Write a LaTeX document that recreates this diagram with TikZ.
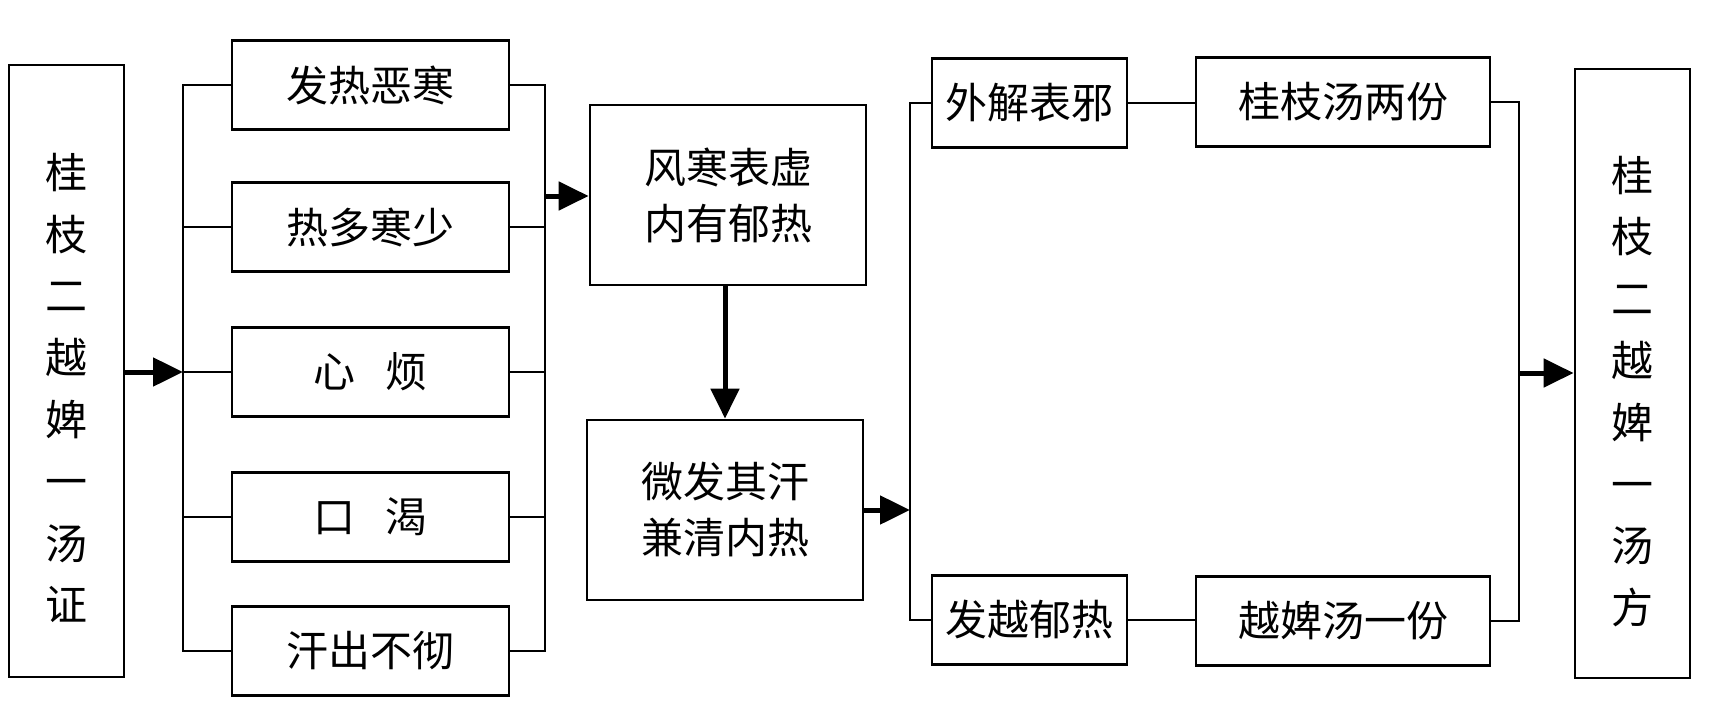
\documentclass[tikz,border=0pt]{standalone}
\usepackage{fontspec}
\newfontfamily\cjk{Noto Sans CJK SC}
\usetikzlibrary{arrows.meta}
\tikzset{
  box/.style={draw, line width=2.8pt, rectangle, inner sep=0pt, font=\cjk\fontsize{42}{56}\selectfont, align=center},
  vbox/.style={box, minimum width=115pt, minimum height=612pt},
  vtext/.style={inner sep=0pt, align=center, font=\cjk\fontsize{42}{61.8}\selectfont},
  sbox/.style={box, minimum width=277pt, minimum height=89pt},
  mbox/.style={box, minimum width=276pt, minimum height=180pt},
  tbox/.style={box, minimum width=195pt, minimum height=89pt},
  hbox/.style={box, minimum width=294pt, minimum height=89pt},
  conn/.style={line width=1.8pt},
  arr/.style={line width=5pt, -{Triangle[length=30pt,width=28pt]}}
}
\begin{document}
\begin{tikzpicture}[x=1pt,y=-1pt]
\useasboundingbox (0,0) rectangle (1736,720);
% left box
\node[vbox] (L) at (66.5,371) {};
\node[vtext] (Lt) at ([yshift=-17pt]L.center) {桂\\枝\\二\\越\\婢\\一\\汤\\证};
% symptoms
\node[sbox] (s1) at (370.5,85) {发热恶寒};
\node[sbox] (s2) at (370.5,227) {热多寒少};
\node[sbox] (s3) at (370.5,372) {心\hspace{0.7em}烦};
\node[sbox] (s4) at (370.5,517) {口\hspace{0.7em}渴};
\node[sbox] (s5) at (370.5,651) {汗出不彻};
\coordinate (lb) at (183,372);
\coordinate (rb) at (545,196);
% left bracket
\draw[conn] (s1.west) -- (s1.west -| lb) -- (s5.west -| lb) -- (s5.west);
\draw[conn] (s2.west) -- (s2.west -| lb);
\draw[conn] (s3.west) -- (s3.west -| lb);
\draw[conn] (s4.west) -- (s4.west -| lb);
\draw[arr] (L.east |- lb) -- (lb);
% right bracket
\draw[conn] (s1.east) -- (s1.east -| rb) -- (s5.east -| rb) -- (s5.east);
\draw[conn] (s2.east) -- (s2.east -| rb);
\draw[conn] (s3.east) -- (s3.east -| rb);
\draw[conn] (s4.east) -- (s4.east -| rb);
% middle boxes
\node[mbox] (A) at (728,195) {风寒表虚\\内有郁热};
\node[mbox] (B) at (725,510) {微发其汗\\兼清内热};
\draw[arr] (rb) -- (A.west |- rb);
\draw[arr] (A.south -| B.north) -- (B.north);
\coordinate (mb) at (910,510);
\draw[arr] (B.east) -- (mb);
% treatment boxes
\node[tbox] (T1) at (1029.5,103) {外解表邪};
\node[hbox] (H1) at (1343,102) {桂枝汤两份};
\node[tbox] (T2) at (1029.5,620) {发越郁热};
\node[hbox] (H2) at (1343,621) {越婢汤一份};
\draw[conn] (T1.west) -- (T1.west -| mb) -- (T2.west -| mb) -- (T2.west);
\draw[conn] (T1.east) -- (H1.west |- T1.east);
\draw[conn] (T2.east) -- (H2.west |- T2.east);
% right side
\node[vbox, minimum height=609pt] (R) at (1632.5,373.5) {};
\node[vtext] (Rt) at ([yshift=-18pt]R.center) {桂\\枝\\二\\越\\婢\\一\\汤\\方};
\coordinate (qb) at (1519,373);
\draw[conn] (H1.east) -- (H1.east -| qb) -- (H2.east -| qb) -- (H2.east);
\draw[arr] (qb) -- (R.west |- qb);
\end{tikzpicture}
\end{document}
